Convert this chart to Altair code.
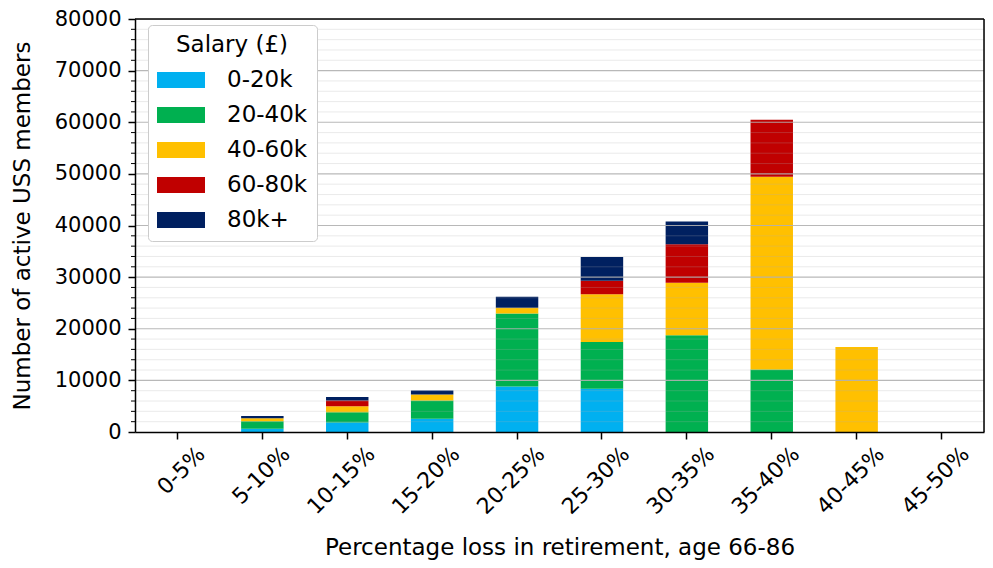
import altair as alt
import pandas as pd

# ---- data ----
categories = ["0-5%", "5-10%", "10-15%", "15-20%", "20-25%",
              "25-30%", "30-35%", "35-40%", "40-45%", "45-50%"]
salary_bands = ["0-20k", "20-40k", "40-60k", "60-80k", "80k+"]
band_colors = ["#00B0F0", "#00B050", "#FFC000", "#C00000", "#002060"]

s_0_20k = [0, 630, 1860, 2550, 8800, 8360, 0, 0, 0, 0]
s_20_40k = [0, 1470, 1970, 3570, 14170, 9060, 18760, 12110, 0, 0]
s_40_60k = [0, 580, 1150, 1150, 1090, 9240, 10140, 37320, 16460, 0]
s_60_80k = [0, 0, 1140, 0, 0, 2620, 7460, 11050, 0, 0]
s_80k_plus = [0, 440, 640, 770, 2160, 4600, 4410, 0, 0, 0]

major_ticks = [0, 10000, 20000, 30000, 40000, 50000, 60000, 70000, 80000]
minor_ticks = [v for v in range(2000, 80000, 2000) if v % 10000 != 0]
major_grid = [10000, 20000, 30000, 40000, 50000, 60000, 70000]

series = [s_0_20k, s_20_40k, s_40_60k, s_60_80k, s_80k_plus]
rows = []
for bi, (band, vals) in enumerate(zip(salary_bands, series)):
    for cat, v in zip(categories, vals):
        rows.append({"category": cat, "band": band, "order": bi, "members": v})
df = pd.DataFrame(rows)

minor_df = pd.DataFrame({"v": minor_ticks})
major_df = pd.DataFrame({"v": major_grid})

FONT = "DejaVu Sans"
W, H = 849, 413
yscale = alt.Scale(domain=[0, 80000], nice=False, zero=True)
YTITLE = "Number of active USS members"

def y_axis():
    return alt.Axis(title=YTITLE, values=major_ticks,
                    format="d", labelFontSize=21, titleFontSize=23,
                    tickSize=7, tickWidth=1.5, tickColor="black",
                    domainColor="black", domainWidth=1.5, labelPadding=7,
                    titlePadding=20, labelColor="black", titleColor="black",
                    titleFontWeight="normal", labelFont=FONT, titleFont=FONT,
                    grid=False, zindex=1, labelFlush=False)

bars = alt.Chart(df).mark_bar(size=W / 20).encode(
    x=alt.X("category:N", sort=categories,
            scale=alt.Scale(paddingInner=0.5, paddingOuter=0.25),
            axis=alt.Axis(title="Percentage loss in retirement, age 66-86",
                          labelAngle=315, labelAlign="right", labelBaseline="middle",
                          labelOffset=24, labelPadding=11, labelFontSize=22,
                          titleFontSize=23, titlePadding=19, tickSize=7, tickWidth=1.5,
                          tickColor="black", domainColor="black", domainWidth=1.5,
                          labelColor="black", titleColor="black", titleFontWeight="normal",
                          labelFont=FONT, titleFont=FONT, grid=False, zindex=1)),
    y=alt.Y("members:Q", stack="zero", scale=yscale, title=YTITLE, axis=y_axis()),
    color=alt.Color("band:N", sort=salary_bands,
                    scale=alt.Scale(domain=salary_bands, range=band_colors),
                    legend=alt.Legend(title="Salary (£)", orient="none",
                                      legendX=13, legendY=6,
                                      symbolType="M-1.5,-0.5H1.5V0.5H-1.5Z",
                                      symbolSize=1024, symbolStrokeWidth=0,
                                      symbolOpacity=1,
                                      symbolOffset=8, labelOffset=30,
                                      rowPadding=7, padding=9,
                                      titlePadding=7, titleFontSize=23,
                                      titleFont=FONT, titleFontWeight="normal",
                                      titleAnchor="middle", titleAlign="center",
                                      labelFontSize=23, labelFont=FONT,
                                      labelColor="black", titleColor="black",
                                      strokeColor="#cccccc", fillColor="white",
                                      cornerRadius=4)),
    order=alt.Order("order:Q", sort="ascending"),
)

minor_grid_layer = alt.Chart(minor_df).mark_rule(color="#b0b0b0", opacity=0.25, strokeWidth=1).encode(
    y=alt.Y("v:Q", scale=yscale, title=YTITLE, axis=y_axis())
)
major_grid_layer = alt.Chart(major_df).mark_rule(color="#b0b0b0", opacity=0.9, strokeWidth=1.2).encode(
    y=alt.Y("v:Q", scale=yscale, title=YTITLE, axis=y_axis())
)
minor_tick_layer = alt.Chart(minor_df).mark_rule(color="black", strokeWidth=1).encode(
    y=alt.Y("v:Q", scale=yscale, title=YTITLE, axis=y_axis()),
    x=alt.value(-4), x2=alt.value(0)
)
# top and right spines of the frame
top_spine = alt.Chart(pd.DataFrame({"v": [80000]})).mark_rule(color="black", strokeWidth=1.5).encode(
    y=alt.Y("v:Q", scale=yscale, title=YTITLE, axis=y_axis())
)
right_spine = alt.Chart(pd.DataFrame({"v": [80000]})).mark_rule(color="black", strokeWidth=1.5).encode(
    y=alt.Y("v:Q", scale=yscale, title=YTITLE, axis=y_axis()),
    y2=alt.value(H), x=alt.value(W)
)

chart = alt.layer(bars, minor_grid_layer, major_grid_layer, minor_tick_layer,
                  top_spine, right_spine).properties(
    width=W, height=H,
    autosize=alt.AutoSizeParams(type="none"),
    padding={"left": 127, "top": 11, "right": 1, "bottom": 129},
).configure_view(stroke=None).configure(background="white")

chart.save("out.html", embed_options={"renderer": "svg", "actions": False})
